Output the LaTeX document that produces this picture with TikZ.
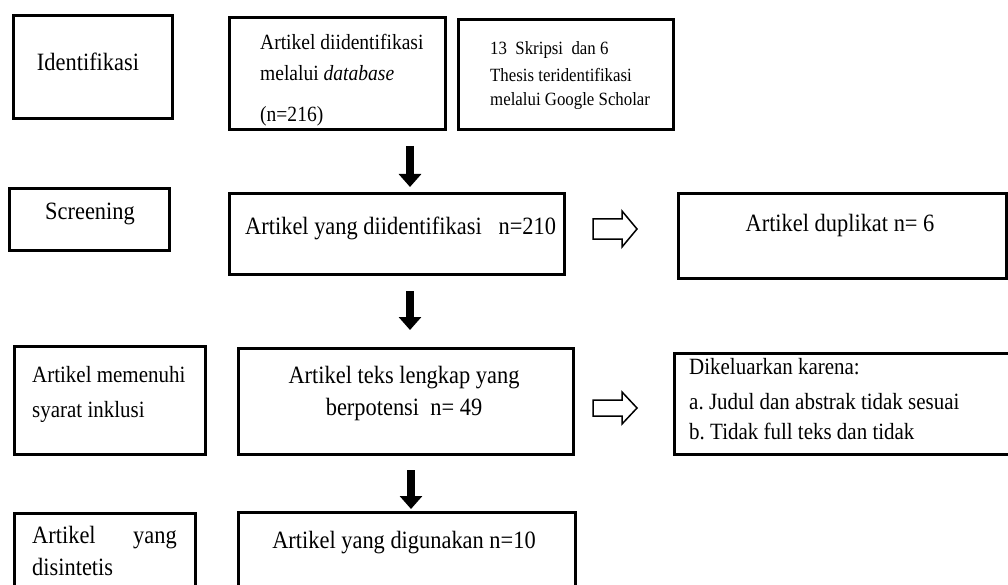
\documentclass[tikz,border=0pt]{standalone}
\usepackage{fontspec}
\setmainfont{Liberation Serif}[FakeStretch=0.9]
\usetikzlibrary{arrows.meta,calc}
\frenchspacing
\begin{document}
\begin{tikzpicture}[x=1pt,y=-1pt,
  box/.style={draw=black, line width=3pt, inner sep=0pt, anchor=north west},
  txt/.style={inner sep=0pt, text=black, font=\fontsize{24.9}{30}\selectfont},
  txtb/.style={txt, font=\fontsize{23.3}{28}\selectfont},
  txts/.style={txt, font=\fontsize{21.7}{26}\selectfont},
  txtgs/.style={txt, font=\fontsize{18.7}{22}\selectfont},
  downarr/.style={line width=8pt, -{Triangle[width=22pt,length=13pt]}},
  hollow/.style={draw=black, line width=1.5pt, line join=miter, fill=white}]
\useasboundingbox (0,0) rectangle (1008,585);
\clip (0,0) rectangle (1008,585);
\fill[white] (0,0) rectangle (1008,585);

% boxes
\node[box, minimum width=159pt, minimum height=103pt] (idf) at (12,14) {};
\node[box, minimum width=216pt, minimum height=112pt] (db) at (228,16) {};
\node[box, minimum width=215pt, minimum height=110pt] (gs) at (457,18) {};
\node[box, minimum width=160pt, minimum height=62pt] (scr) at (8,187) {};
\node[box, minimum width=335pt, minimum height=81pt] (mid) at (228,192) {};
\node[box, minimum width=328pt, minimum height=85pt] (dup) at (677,192) {};
\node[box, minimum width=191pt, minimum height=108pt] (inc) at (13,345) {};
\node[box, minimum width=335pt, minimum height=106pt] (full) at (237,347) {};
\node[box, minimum width=347pt, minimum height=101pt] (exc) at (673,352) {};
\node[box, minimum width=181pt, minimum height=90pt] (syn) at (13,512) {};
\node[box, minimum width=337pt, minimum height=90pt] (used) at (237,511) {};

% texts
\node[txt, anchor=base] (tidf) at (88,71) {Identifikasi};
\node[txts, anchor=base west] (tdb1) at (260,50) {Artikel diidentifikasi};
\node[txts, anchor=base west] (tdb2) at (260,81) {melalui \textit{database}};
\node[txts, anchor=base west] (tdb3) at (260,122) {(n=216)};
\node[txtgs, anchor=base west] (tgs1) at (490,55) {13\ \ Skripsi\ \ dan 6};
\node[txtgs, anchor=base west] (tgs2) at (490,82) {Thesis teridentifikasi};
\node[txtgs, anchor=base west] (tgs3) at (490,106) {melalui Google Scholar};
\node[txt, anchor=base] (tscr) at (90,219) {Screening};
\node[txt, anchor=base west] (tmid) at (245,234) {Artikel yang diidentifikasi\ \ \ n=210};
\node[txt, anchor=base] (tdup) at (840,232) {Artikel duplikat n= 6};
\node[txtb, anchor=base west] (tinc1) at (32,382) {Artikel memenuhi};
\node[txtb, anchor=base west] (tinc2) at (32,417) {syarat inklusi};
\node[txt, anchor=base] (tfull1) at (404,383) {Artikel teks lengkap yang};
\node[txt, anchor=base] (tfull2) at (404,415) {berpotensi\ \ n= 49};
\node[txtb, anchor=base west] (texc1) at (689,374) {Dikeluarkan karena:};
\node[txtb, anchor=base west] (texc2) at (689,409) {a. Judul dan abstrak tidak sesuai};
\node[txtb, anchor=base west] (texc3) at (689,439) {b. Tidak full teks dan tidak};
\node[txt, anchor=base west] (tsyn1) at (32,543) {Artikel};
\node[txt, anchor=base east] (tsyn2) at (177,543) {yang};
\node[txt, anchor=base west] (tsyn3) at (32,575) {disintetis};
\node[txt, anchor=base] (tused) at (404,548) {Artikel yang digunakan n=10};

% down arrows
\coordinate (ax) at (410,0);
\coordinate (ax3) at (411,0);
\draw[downarr] ($(db.south -| ax)+(0,15)$) -- ($(mid.north -| ax)+(0,-5)$);
\draw[downarr] ($(mid.south -| ax)+(0,15)$) -- ($(full.north -| ax)+(0,-17)$);
\draw[downarr] ($(full.south -| ax3)+(0,14)$) -- ($(used.north -| ax3)+(0,-2)$);

% hollow arrows
\coordinate (ha1) at (593,229);
\coordinate (ha2) at (593,408);
\draw[hollow] (ha1) ++(0,-10) -- ++(29,0) -- ++(0,-8) -- ++(15,18) -- ++(-15,18) -- ++(0,-8) -- ++(-29,0) -- cycle;
\draw[hollow] (ha2) ++(0,-8) -- ++(29,0) -- ++(0,-8) -- ++(15,16) -- ++(-15,16) -- ++(0,-8) -- ++(-29,0) -- cycle;
\end{tikzpicture}
\end{document}
